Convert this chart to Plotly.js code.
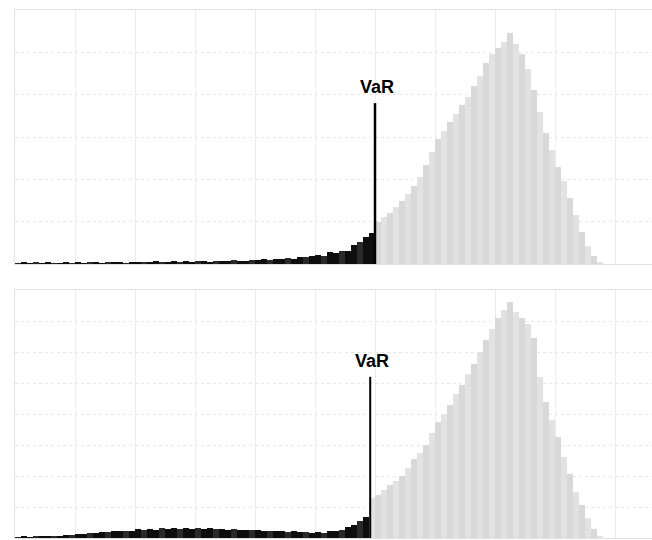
<!DOCTYPE html>
<html>
<head>
<meta charset="utf-8">
<script src="https://cdn.plot.ly/plotly-3.0.1.min.js"></script>
<style>html,body{margin:0;padding:0;background:#fff;}#chart{width:652px;height:540px;}</style>
</head>
<body>
<div id="chart"></div>
<script>
// Bin width in loss units; bins start at 0
const binWidth = 0.1;

// Panel 1 (fat left tail)
const topVaR = 6.0;
const topVaRLineTop = 3.8;
const topTail = [0.03,0.04,0.03,0.04,0.02,0.04,0.03,0.03,0.04,0.03,
 0.04,0.03,0.05,0.04,0.03,0.04,0.05,0.04,0.03,0.05,
 0.04,0.05,0.04,0.06,0.05,0.04,0.06,0.05,0.06,0.05,
 0.06,0.07,0.05,0.08,0.06,0.07,0.09,0.07,0.08,0.10,
 0.09,0.11,0.10,0.12,0.11,0.14,0.13,0.17,0.16,0.18,
 0.21,0.19,0.28,0.25,0.30,0.31,0.45,0.52,0.63,0.74];
const topBody = [1.0,1.1,1.2,1.35,1.5,1.65,1.85,2.06,2.35,2.65,
 2.95,3.15,3.35,3.55,3.75,3.95,4.2,4.45,4.75,4.95,
 5.1,5.25,5.45,5.2,4.95,4.6,4.1,3.6,3.1,2.7,
 2.3,1.95,1.55,1.15,0.75,0.42,0.18,0.05];

// Panel 2 (bimodal left tail)
const botVaR = 5.92;
const botVaRLineTop = 5.2;
const botTail = [0.04,0.05,0.04,0.06,0.05,0.06,0.08,0.07,0.09,0.10,
 0.13,0.12,0.16,0.15,0.20,0.18,0.22,0.21,0.24,0.22,
 0.28,0.26,0.30,0.27,0.31,0.29,0.32,0.28,0.31,0.30,
 0.33,0.29,0.31,0.28,0.30,0.27,0.29,0.26,0.27,0.25,
 0.26,0.23,0.24,0.21,0.23,0.20,0.22,0.18,0.19,0.17,
 0.18,0.17,0.21,0.22,0.25,0.35,0.41,0.55,0.68];
const botBody = [1.3,1.4,1.55,1.7,1.85,2.0,2.25,2.55,2.75,3.0,
 3.4,3.75,4.0,4.3,4.65,4.95,5.3,5.6,6.0,6.4,
 6.75,7.1,7.35,7.6,7.3,7.1,6.9,6.45,5.2,4.4,
 3.8,3.25,2.6,2.05,1.5,1.05,0.65,0.3,0.08];

const varLabel = "VaR";

function makeTrace(tail, body, VaR, xa, ya) {
  const ys = tail.concat(body);
  const xs = ys.map((_, i) => (i + 0.5) * binWidth);
  const colors = xs.map((x, i) => x < VaR ? (i % 3 === 0 ? '#2a2a2a' : '#0e0e0e')
                                           : (i % 2 === 0 ? '#d8d8d8' : '#e2e2e2'));
  return {type: 'bar', x: xs, y: ys, width: binWidth * 0.88, xaxis: xa, yaxis: ya,
          marker: {color: colors, line: {width: 0}}, hoverinfo: 'skip', showlegend: false};
}

const xr = [0, 637 / 60];
const axisX = {range: xr, dtick: 1, tick0: 0, showticklabels: false, ticks: '',
  showgrid: true, gridcolor: '#ececec', gridwidth: 1, zeroline: false,
  showline: true, linecolor: '#e2e2e2', linewidth: 1, mirror: true};
const axisY = (range, dom) => ({range: range, domain: dom, dtick: 1, showticklabels: false, ticks: '',
  showgrid: true, gridcolor: '#e6e6e6', griddash: 'dot', gridwidth: 1, zeroline: false,
  showline: true, linecolor: '#e2e2e2', linewidth: 1, mirror: true});

const layout = {
  width: 652, height: 540,
  margin: {l: 15, r: 0, t: 0, b: 0},
  paper_bgcolor: '#fff', plot_bgcolor: '#fff',
  bargap: 0,
  xaxis: Object.assign({anchor: 'y'}, axisX),
  yaxis: Object.assign({anchor: 'x'}, axisY([0, 6], [1 - 264 / 540, 1 - 10 / 540])),
  xaxis2: Object.assign({anchor: 'y2'}, axisX),
  yaxis2: Object.assign({anchor: 'x2'}, axisY([0, 8], [1 - 538 / 540, 1 - 290 / 540])),
  shapes: [
    {type: 'line', xref: 'x', yref: 'y', x0: topVaR, x1: topVaR, y0: 0, y1: topVaRLineTop,
     line: {color: '#000', width: 2.5}},
    {type: 'line', xref: 'x2', yref: 'y2', x0: botVaR, x1: botVaR, y0: 0, y1: botVaRLineTop,
     line: {color: '#000', width: 2}}
  ],
  annotations: [
    {xref: 'x', yref: 'y', x: topVaR + 0.03, y: topVaRLineTop, yanchor: 'bottom', yshift: 4,
     text: '<b>' + varLabel + '</b>', showarrow: false,
     font: {family: 'Liberation Sans, Arial, sans-serif', size: 18, color: '#000'}},
    {xref: 'x2', yref: 'y2', x: botVaR + 0.03, y: botVaRLineTop, yanchor: 'bottom', yshift: 4,
     text: '<b>' + varLabel + '</b>', showarrow: false,
     font: {family: 'Liberation Sans, Arial, sans-serif', size: 18, color: '#000'}}
  ]
};

Plotly.newPlot('chart', [
  makeTrace(topTail, topBody, topVaR, 'x', 'y'),
  makeTrace(botTail, botBody, botVaR, 'x2', 'y2')
], layout, {staticPlot: true, displayModeBar: false});
</script>
</body>
</html>
